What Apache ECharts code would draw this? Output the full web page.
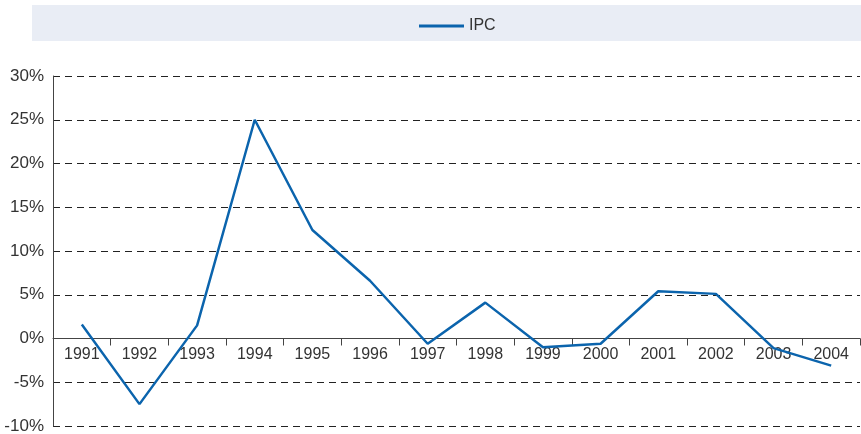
<!DOCTYPE html>
<html>
<head>
<meta charset="utf-8">
<script src="https://cdn.jsdelivr.net/npm/echarts@6/dist/echarts.min.js"></script>
<style>
  html, body { margin: 0; padding: 0; background: #fff; }
  #chart { width: 861px; height: 434px; }
</style>
</head>
<body>
<div id="chart"></div>
<script>
var years = ['1991', '1992', '1993', '1994', '1995', '1996', '1997', '1998', '1999', '2000', '2001', '2002', '2003', '2004'];
var ipc = [1.6, -7.5, 1.5, 25.0, 12.4, 6.6, -0.6, 4.1, -1.0, -0.6, 5.4, 5.1, -1.1, -3.1];
var seriesName = 'IPC';

var font = '"Liberation Sans Narrow", "Liberation Sans", Arial, sans-serif';
var myChart = echarts.init(document.getElementById('chart'));
// plot area: 76..426 px tall, zero line sits 87.5px above the bottom
var options = {
    animation: false,
    graphic: [
        {
            type: 'rect',
            left: 32, top: 5,
            shape: { width: 829, height: 36 },
            style: { fill: '#e9edf5' },
            z: -1
        }
    ],
    legend: {
        top: 13,
        left: 414,
        icon: 'rect',
        itemWidth: 45,
        itemHeight: 3,
        itemGap: 10,
        textStyle: { fontFamily: font, fontSize: 16, color: '#333' },
        data: [seriesName]
    },
    grid: { left: 53, right: 1, top: 76, bottom: 8, outerBoundsMode: 'none', containLabel: false },
    xAxis: {
        type: 'category',
        data: years,
        boundaryGap: true,
        offset: -87.5,
        axisLine: { onZero: false, lineStyle: { color: '#444', width: 1 } },
        axisTick: { show: true, length: 7, lineStyle: { color: '#444' } },
        axisLabel: { fontFamily: font, fontSize: 16, color: '#333', margin: 8 }
    },
    yAxis: {
        type: 'value',
        min: -10,
        max: 30,
        interval: 5,
        axisLine: { show: true, lineStyle: { color: '#444', width: 1 } },
        axisTick: { show: false },
        axisLabel: {
            fontFamily: font, fontSize: 17, color: '#333', margin: 9,
            formatter: '{value}%'
        },
        splitLine: { lineStyle: { color: '#222', type: [7, 5], width: 1 } }
    },
    series: [
        {
            name: seriesName,
            type: 'line',
            data: ipc,
            symbol: 'none',
            lineStyle: { color: '#0b64ad', width: 2.5 },
            itemStyle: { color: '#0b64ad' }
        }
    ]
};
myChart.setOption(options, true);
</script>
</body>
</html>
